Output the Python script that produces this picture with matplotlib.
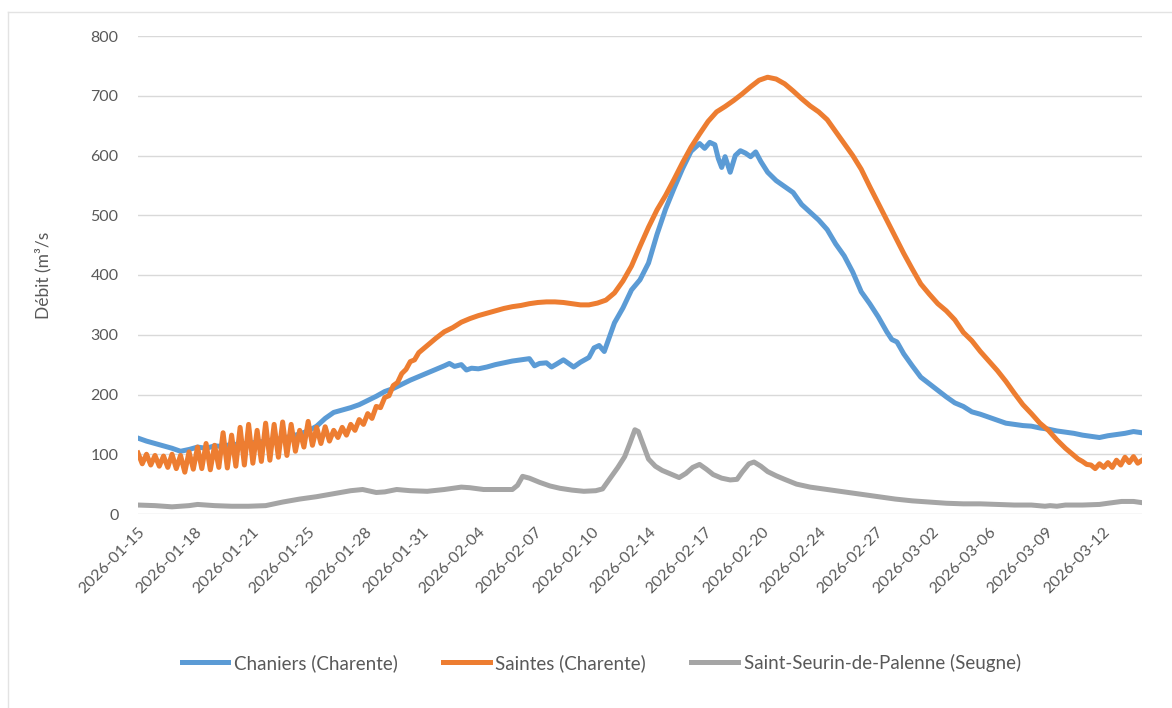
import pandas as pd
import matplotlib.pyplot as plt
from matplotlib.lines import Line2D

# start of the series, x values are days after this date
start = pd.Timestamp("2026-01-15")

# Chaniers (Charente)
chaniers_day = [0.0, 0.5, 1.0, 1.5, 2.0, 2.5, 3.0, 3.5, 4.0, 4.5, 5.0, 5.5, 6.0, 6.5, 7.0, 7.5,
                8.0, 8.5, 9.0, 9.5, 10.0, 10.5, 11.0, 11.5, 12.0, 12.5, 13.0, 13.5, 14.0, 14.5,
                15.0, 15.5, 16.0, 16.5, 17.0, 17.5, 18.0, 18.3, 18.6, 19.0, 19.3, 19.6, 20.0,
                20.5, 21.0, 21.5, 22.0, 22.5, 23.0, 23.3, 23.6, 24.0, 24.3, 24.6, 25.0, 25.3,
                25.6, 26.0, 26.5, 26.8, 27.1, 27.4, 27.7, 28.0, 28.5, 29.0, 29.5, 30.0, 30.5,
                31.0, 31.5, 32.0, 32.5, 33.0, 33.3, 33.6, 33.9, 34.1, 34.3, 34.5, 34.8, 35.1,
                35.4, 35.7, 36.0, 36.3, 36.6, 37.0, 37.5, 38.0, 38.5, 39.0, 39.5, 40.0, 40.5,
                41.0, 41.5, 42.0, 42.5, 43.0, 43.5, 44.0, 44.3, 44.6, 45.0, 45.5, 46.0, 46.5,
                47.0, 47.5, 48.0, 48.5, 49.0, 49.5, 50.0, 50.5, 51.0, 51.5, 52.0, 52.5, 53.0,
                53.5, 54.0, 54.5, 55.0, 55.5, 56.0, 56.5, 57.0, 57.5, 58.0, 58.5, 59.0]
chaniers_val = [127, 122, 118, 114, 110, 105, 108, 112, 110, 114, 113, 117, 116, 119, 120, 122,
                124, 127, 130, 134, 139, 147, 160, 170, 174, 178, 183, 190, 197, 205,
                210, 217, 224, 230, 236, 242, 248, 252, 247, 250, 241, 244, 243,
                246, 250, 253, 256, 258, 260, 248, 252, 253, 246, 251, 258, 252,
                246, 254, 262, 278, 282, 272, 296, 320, 345, 375, 392, 420, 468,
                510, 545, 578, 607, 620, 612, 622, 618, 595, 580, 598, 572, 600,
                608, 604, 598, 606, 590, 572, 558, 548, 538, 518, 505, 492, 476,
                452, 432, 405, 372, 352, 330, 305, 292, 288, 268, 248, 229, 218,
                207, 196, 186, 180, 171, 167, 162, 157, 152, 150, 148, 147, 144,
                142, 139, 137, 135, 132, 130, 128, 131, 133, 135, 138, 136]

# Saintes (Charente)
saintes_day = [0.0, 0.25, 0.5, 0.75, 1.0, 1.25, 1.5, 1.75, 2.0, 2.25, 2.5, 2.75, 3.0, 3.25,
               3.5, 3.75, 4.0, 4.25, 4.5, 4.75, 5.0, 5.25, 5.5, 5.75, 6.0, 6.25, 6.5, 6.75,
               7.0, 7.25, 7.5, 7.75, 8.0, 8.25, 8.5, 8.75, 9.0, 9.25, 9.5, 9.75, 10.0, 10.25,
               10.5, 10.75, 11.0, 11.25, 11.5, 11.75, 12.0, 12.25, 12.5, 12.75, 13.0, 13.25,
               13.5, 13.75, 14.0, 14.25, 14.5, 14.75, 15.0, 15.25, 15.5, 15.75, 16.0, 16.25,
               16.5, 17.0, 17.5, 18.0, 18.5, 19.0, 19.5, 20.0, 20.5, 21.0, 21.5, 22.0, 22.5,
               23.0, 23.5, 24.0, 24.5, 25.0, 25.5, 26.0, 26.5, 27.0, 27.5, 28.0, 28.5, 29.0,
               29.5, 30.0, 30.5, 31.0, 31.5, 32.0, 32.5, 33.0, 33.5, 34.0, 34.5, 35.0, 35.5,
               36.0, 36.5, 37.0, 37.5, 38.0, 38.5, 39.0, 39.5, 40.0, 40.5, 41.0, 41.5, 42.0,
               42.5, 43.0, 43.5, 44.0, 44.5, 45.0, 45.5, 46.0, 46.5, 47.0, 47.5, 48.0, 48.5,
               49.0, 49.5, 50.0, 50.5, 51.0, 51.5, 52.0, 52.5, 53.0, 53.5, 54.0, 54.5, 55.0,
               55.25, 55.5, 55.75, 56.0, 56.25, 56.5, 56.75, 57.0, 57.25, 57.5, 57.75, 58.0,
               58.25, 58.5, 58.75, 59.0]
saintes_val = [102, 84, 100, 82, 98, 80, 97, 78, 100, 76, 98, 70, 104, 75,
               112, 76, 118, 74, 115, 78, 136, 77, 132, 80, 145, 82, 150, 85,
               140, 88, 152, 90, 150, 95, 154, 98, 150, 105, 140, 112, 155, 115,
               145, 118, 146, 122, 140, 128, 145, 132, 150, 140, 158, 150,
               168, 160, 180, 178, 195, 198, 215, 220, 235, 242, 255, 258,
               270, 282, 294, 305, 312, 321, 327, 332, 336, 340, 344, 347, 349,
               352, 354, 355, 355, 354, 352, 350, 350, 353, 358, 370, 390, 415,
               448, 480, 509, 533, 560, 588, 614, 636, 657, 673, 682, 692, 703,
               715, 726, 731, 728, 720, 708, 695, 683, 673, 660, 640, 620, 600,
               577, 548, 520, 492, 464, 436, 410, 385, 368, 352, 340, 325, 304,
               290, 272, 256, 240, 222, 202, 183, 168, 152, 140, 124, 110, 98,
               92, 88, 83, 82, 76, 84, 78, 86, 78, 90, 82, 95,
               86, 96, 85, 90]

# Saint-Seurin-de-Palenne (Seugne)
seugne_day = [0, 1, 2, 3, 3.5, 4.5, 5.5, 6.5, 7.5, 8.5, 9.5, 10.5, 11.5, 12.5, 13.2, 14.0,
              14.5, 15.2, 16, 17, 18, 19, 19.5, 20.3, 21, 22, 22.3, 22.6, 23.0, 23.6, 24.2,
              24.8, 25.5, 26.2, 26.9, 27.3, 27.7, 28.2, 28.6, 28.9, 29.2, 29.4, 29.7, 30.0,
              30.4, 30.8, 31.3, 31.8, 32.2, 32.6, 33.0, 33.4, 33.8, 34.3, 34.8, 35.2, 35.5,
              35.9, 36.2, 36.6, 37.0, 37.5, 38.0, 38.7, 39.5, 40.5, 41.5, 42.5, 43.5, 44.5,
              45.5, 46.5, 47.5, 48.5, 49.5, 50.5, 51.5, 52.5, 53.3, 53.6, 54.0, 54.5, 55.5,
              56.5, 57.0, 57.8, 58.5, 59.0]
seugne_val = [15, 14, 12, 14, 16, 14, 13, 13, 14, 20, 25, 29, 34, 39, 41, 36,
              37, 41, 39, 38, 41, 45, 44, 41, 41, 41, 48, 63, 60, 53, 47,
              43, 40, 38, 39, 42, 58, 78, 96, 118, 141, 138, 115, 92,
              80, 73, 67, 61, 68, 78, 83, 75, 66, 60, 57, 58, 70,
              84, 87, 80, 71, 64, 58, 50, 45, 41, 37, 33, 29, 25,
              22, 20, 18, 17, 17, 16, 15, 15, 13, 14, 13, 15, 15,
              16, 18, 21, 21, 19]

series_names = ["Chaniers (Charente)", "Saintes (Charente)", "Saint-Seurin-de-Palenne (Seugne)"]
colors = ["#5B9BD5", "#ED7D31", "#A5A5A5"]

plt.rcParams['font.family'] = ['Lato', 'DejaVu Sans']

fig = plt.figure(figsize=(11.72, 7.08), dpi=100)
ax = fig.add_axes([138/1172, 1 - 514/708, (1142-138)/1172, (514-36)/708])

#light chart-area border
fig.add_artist(Line2D([8/1172, 8/1172], [0, 1 - 12/708], color="#E3E3E3", lw=1))
fig.add_artist(Line2D([8/1172, 1], [1 - 12/708, 1 - 12/708], color="#E3E3E3", lw=1))

lw = 3.6
ax.plot(chaniers_day, chaniers_val, color=colors[0], lw=lw, solid_joinstyle="round", zorder=3)
ax.plot(saintes_day, saintes_val, color=colors[1], lw=lw, solid_joinstyle="round", zorder=4)
ax.plot(seugne_day, seugne_val, color=colors[2], lw=lw, solid_joinstyle="round", zorder=2)

ax.set_xlim(0, 59)
ax.set_ylim(0, 800)
ax.set_yticks(range(0, 801, 100))

#tick every 80 hours, like the category axis
tick_days = [k * 80 / 24 for k in range(18)]
ax.set_xticks(tick_days)
ax.set_xticklabels([(start + pd.Timedelta(days=t)).strftime("%Y-%m-%d") for t in tick_days],
                   rotation=45, ha="right", rotation_mode="anchor")

ax.tick_params(axis="both", length=0, colors="#595959", labelsize=11.5)
ax.tick_params(axis="x", pad=8)
ax.tick_params(axis="y", pad=14)
ax.grid(axis="y", color="#D9D9D9", lw=1)
ax.set_axisbelow(True)
for s in ax.spines.values():
    s.set_visible(False)

ax.set_ylabel("Débit (m³/s", color="#595959", fontsize=12.5, labelpad=28)

handles = [Line2D([], [], color=c, lw=lw) for c in colors]
fig.legend(handles, series_names, loc="center", bbox_to_anchor=(0.513, 0.064), ncol=3,
           frameon=False, fontsize=13.5, handlelength=2.5, handletextpad=0.3,
           columnspacing=2.4, labelcolor="#595959")

fig.savefig("out.png", dpi=100)
